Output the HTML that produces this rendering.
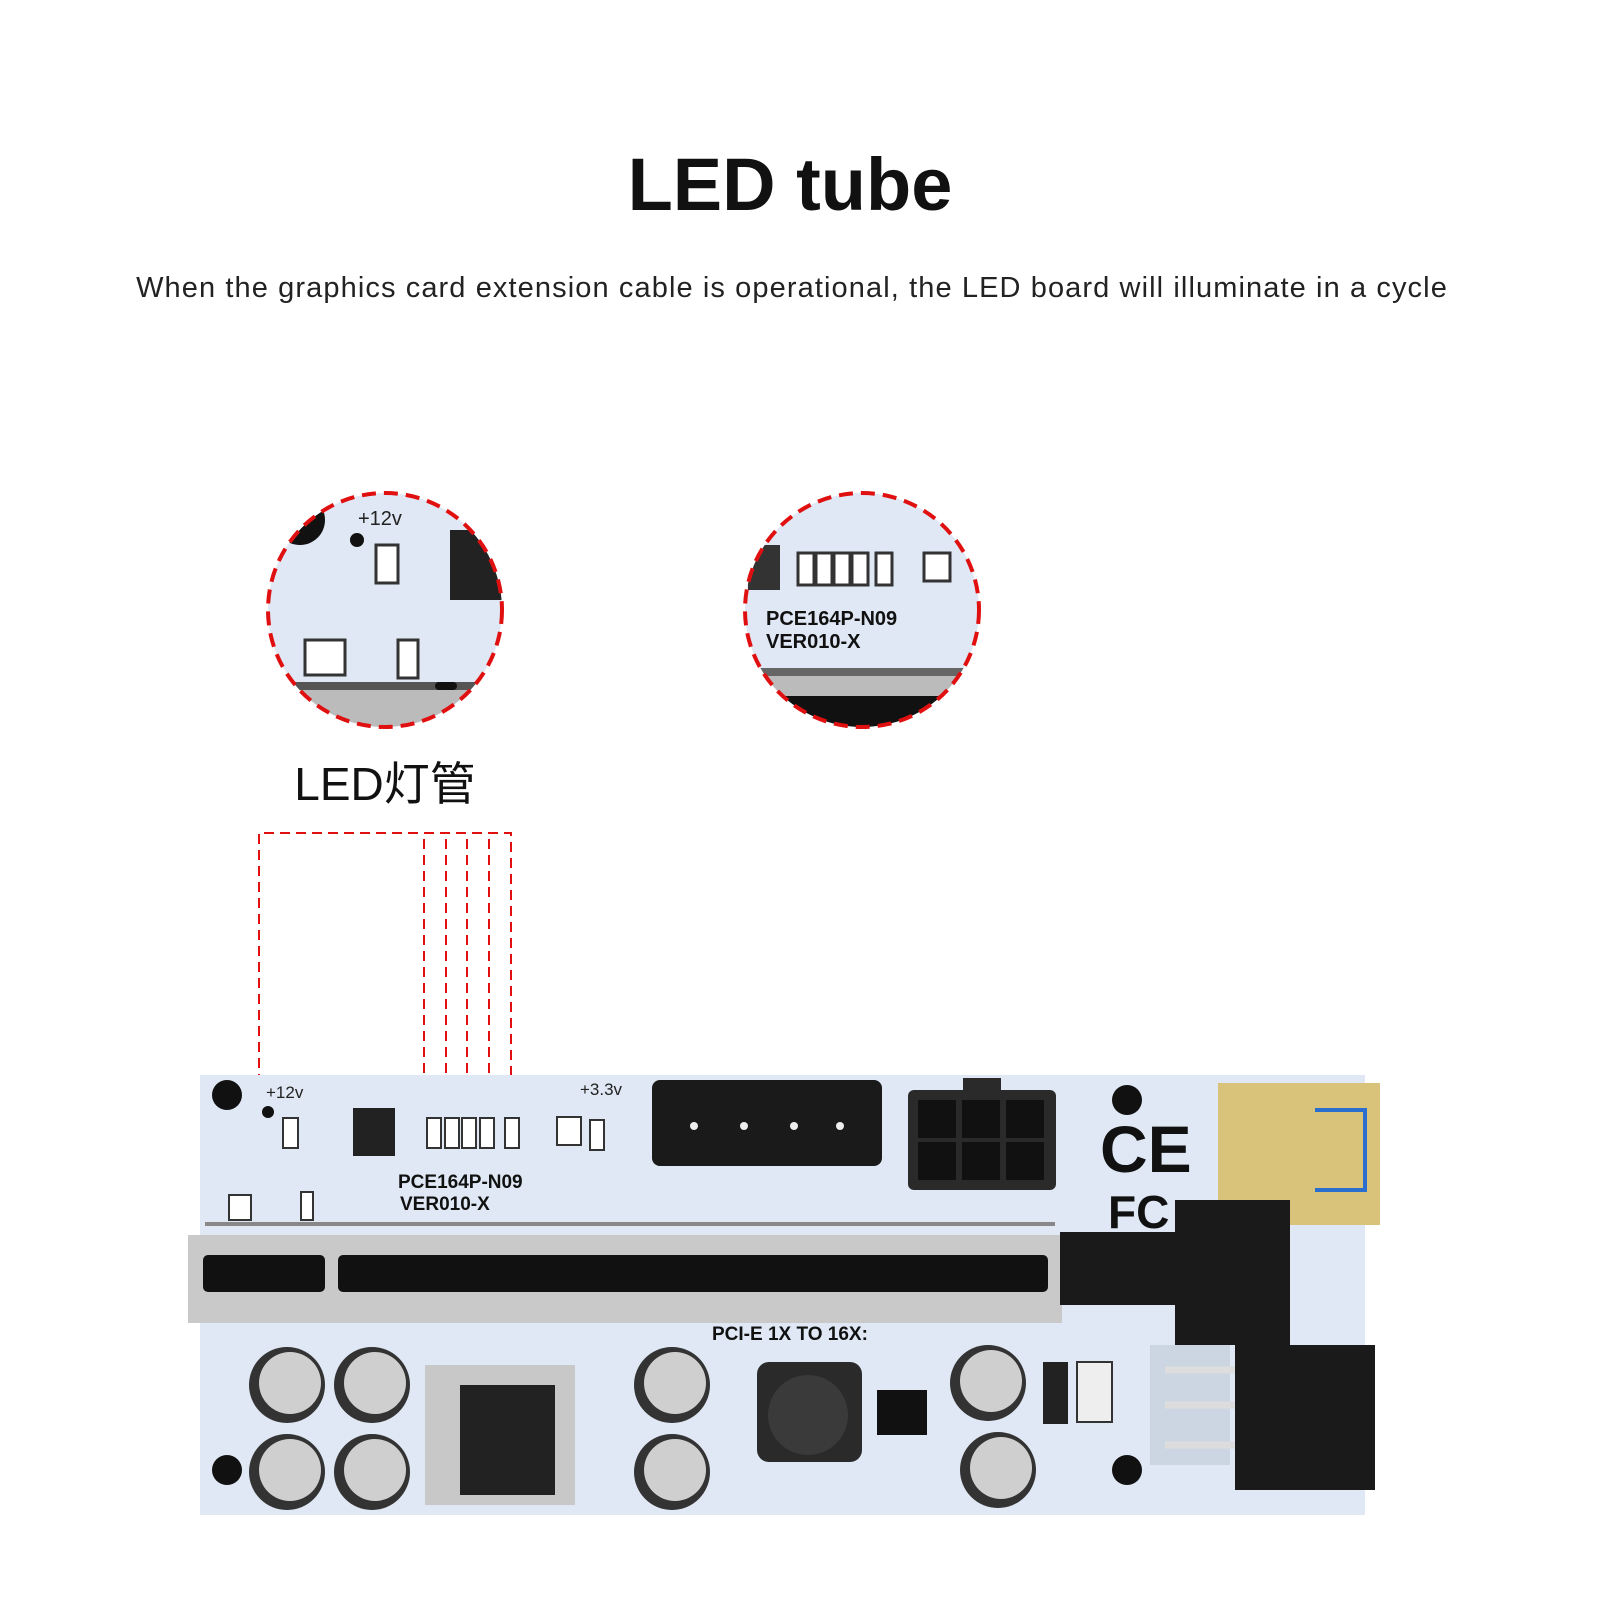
<!DOCTYPE html>
<html><head><meta charset="utf-8"><style>
body{margin:0;background:#fff;width:1600px;height:1600px;overflow:hidden;font-family:"Liberation Sans","Noto Sans CJK SC",sans-serif}
</style></head><body>
<svg width="1600" height="1600" viewBox="0 0 1600 1600" xmlns="http://www.w3.org/2000/svg" font-family="Liberation Sans, Noto Sans CJK SC, sans-serif">
<text x="790" y="210" text-anchor="middle" font-size="74" font-weight="bold" fill="#111">LED tube</text>
<text x="792" y="297" text-anchor="middle" font-size="29" fill="#222" letter-spacing="1.1">When the graphics card extension cable is operational, the LED board will illuminate in a cycle</text>
<defs>
<clipPath id="c1"><circle cx="385" cy="610" r="117"/></clipPath>
<clipPath id="c2"><circle cx="862" cy="610" r="117"/></clipPath>
</defs>
<g clip-path="url(#c1)">
<rect x="260" y="490" width="250" height="250" fill="#dfe8f4"/>
<circle cx="300" cy="520" r="25" fill="#111"/>
<circle cx="357" cy="540" r="7" fill="#111"/>
<text x="358" y="525" font-size="20" fill="#222">+12v</text>
<rect x="376" y="545" width="22" height="38" fill="#fff" stroke="#333" stroke-width="3"/>
<rect x="450" y="530" width="60" height="70" fill="#222"/>
<rect x="305" y="640" width="40" height="35" fill="#fff" stroke="#333" stroke-width="3"/>
<rect x="398" y="640" width="20" height="38" fill="#fff" stroke="#333" stroke-width="3"/>
<rect x="260" y="682" width="250" height="8" fill="#555"/>
<rect x="260" y="690" width="250" height="50" fill="#bbb"/>
<rect x="435" y="682" width="22" height="8" rx="4" fill="#111"/>
</g>
<circle cx="385" cy="610" r="117" fill="none" stroke="#e01010" stroke-width="4" stroke-dasharray="14 8"/>
<g clip-path="url(#c2)">
<rect x="740" y="490" width="250" height="250" fill="#dfe8f4"/>
<rect x="748" y="545" width="32" height="45" fill="#333"/>
<g fill="#fff" stroke="#333" stroke-width="3">
<rect x="798" y="553" width="16" height="32"/><rect x="816" y="553" width="16" height="32"/><rect x="834" y="553" width="16" height="32"/><rect x="852" y="553" width="16" height="32"/><rect x="876" y="553" width="16" height="32"/>
<rect x="924" y="553" width="26" height="28"/>
</g>
<text x="766" y="625" font-size="20" fill="#111" font-weight="bold">PCE164P-N09</text>
<text x="766" y="648" font-size="20" fill="#111" font-weight="bold">VER010-X</text>
<rect x="740" y="668" width="250" height="8" fill="#666"/>
<rect x="740" y="676" width="250" height="20" fill="#bbb"/>
<rect x="740" y="696" width="250" height="50" fill="#111"/>
</g>
<circle cx="862" cy="610" r="117" fill="none" stroke="#e01010" stroke-width="4" stroke-dasharray="14 8"/>
<text x="385" y="800" text-anchor="middle" font-size="46" fill="#111">LED灯管</text>
<g fill="none" stroke="#e01010" stroke-width="2" stroke-dasharray="10 6">
<path d="M259 1100 V833 H511 V1105"/>
<path d="M424 1105 V833"/><path d="M446 1105 V833"/><path d="M467 1105 V833"/><path d="M489 1105 V833"/>
</g>
<rect x="200" y="1075" width="1165" height="440" fill="#dfe8f4"/>
<circle cx="227" cy="1095" r="15" fill="#111"/>
<circle cx="227" cy="1470" r="15" fill="#111"/>
<circle cx="1127" cy="1100" r="15" fill="#111"/>
<circle cx="1127" cy="1470" r="15" fill="#111"/>
<circle cx="268" cy="1112" r="6" fill="#111"/>
<text x="266" y="1098" font-size="17" fill="#222">+12v</text>
<rect x="283" y="1118" width="15" height="30" fill="#fff" stroke="#333" stroke-width="2"/>
<rect x="353" y="1108" width="42" height="48" fill="#222"/>
<g fill="#fff" stroke="#333" stroke-width="2">
<rect x="427" y="1118" width="14" height="30"/><rect x="445" y="1118" width="14" height="30"/><rect x="462" y="1118" width="14" height="30"/><rect x="480" y="1118" width="14" height="30"/><rect x="505" y="1118" width="14" height="30"/>
<rect x="557" y="1117" width="24" height="28"/><rect x="590" y="1120" width="14" height="30"/>
<rect x="229" y="1195" width="22" height="25"/><rect x="301" y="1192" width="12" height="28"/>
</g>
<text x="580" y="1095" font-size="17" fill="#222">+3.3v</text>
<text x="398" y="1188" font-size="19" font-weight="bold" fill="#111">PCE164P-N09</text>
<text x="400" y="1210" font-size="19" font-weight="bold" fill="#111">VER010-X</text>
<rect x="205" y="1222" width="850" height="4" fill="#888"/>
<rect x="652" y="1080" width="230" height="86" rx="8" fill="#1a1a1a"/>
<g fill="#eee"><circle cx="694" cy="1126" r="4"/><circle cx="744" cy="1126" r="4"/><circle cx="794" cy="1126" r="4"/><circle cx="840" cy="1126" r="4"/></g>
<rect x="908" y="1090" width="148" height="100" rx="6" fill="#2a2a2a"/>
<rect x="963" y="1078" width="38" height="16" fill="#2a2a2a"/>
<g fill="#111"><rect x="918" y="1100" width="38" height="38"/><rect x="962" y="1100" width="38" height="38"/><rect x="1006" y="1100" width="38" height="38"/><rect x="918" y="1142" width="38" height="38"/><rect x="962" y="1142" width="38" height="38"/><rect x="1006" y="1142" width="38" height="38"/></g>
<text x="1100" y="1172" font-size="66" font-weight="bold" fill="#111">CE</text>
<text x="1108" y="1228" font-size="46" font-weight="bold" fill="#111">FC</text>
<rect x="1218" y="1083" width="162" height="142" fill="#d9c27a"/>
<path d="M1315 1110 h50 v80 h-50" fill="none" stroke="#2a6fd0" stroke-width="4"/>
<rect x="188" y="1235" width="874" height="88" fill="#c9c9c9"/>
<rect x="203" y="1255" width="122" height="37" rx="5" fill="#111"/>
<rect x="338" y="1255" width="710" height="37" rx="5" fill="#111"/>
<path d="M1060 1232 H1175 V1200 H1290 V1345 H1175 V1305 H1060 Z" fill="#1a1a1a"/>
<rect x="1150" y="1345" width="80" height="120" fill="#ccd6e2"/>
<g stroke="#ddd" stroke-width="7"><line x1="1165" y1="1370" x2="1240" y2="1370"/><line x1="1165" y1="1405" x2="1240" y2="1405"/><line x1="1165" y1="1445" x2="1240" y2="1445"/></g>
<rect x="1235" y="1345" width="140" height="145" fill="#1a1a1a"/>
<text x="712" y="1340" font-size="19" font-weight="bold" fill="#111">PCI-E 1X TO 16X:</text>
<g fill="#333"><circle cx="287" cy="1385" r="38"/><circle cx="372" cy="1385" r="38"/><circle cx="287" cy="1472" r="38"/><circle cx="372" cy="1472" r="38"/><circle cx="672" cy="1385" r="38"/><circle cx="672" cy="1472" r="38"/><circle cx="988" cy="1383" r="38"/><circle cx="998" cy="1470" r="38"/></g>
<g fill="#cfcfcf"><circle cx="290" cy="1383" r="31"/><circle cx="375" cy="1383" r="31"/><circle cx="290" cy="1470" r="31"/><circle cx="375" cy="1470" r="31"/><circle cx="675" cy="1383" r="31"/><circle cx="675" cy="1470" r="31"/><circle cx="991" cy="1381" r="31"/><circle cx="1001" cy="1468" r="31"/></g>
<rect x="425" y="1365" width="150" height="140" fill="#c8c8c8"/>
<rect x="460" y="1385" width="95" height="110" fill="#222"/>
<rect x="757" y="1362" width="105" height="100" rx="12" fill="#2a2a2a"/>
<circle cx="808" cy="1415" r="40" fill="#3a3a3a"/>
<rect x="877" y="1390" width="50" height="45" fill="#111"/>
<rect x="1043" y="1362" width="25" height="62" fill="#222"/>
<rect x="1077" y="1362" width="35" height="60" fill="#eee" stroke="#333" stroke-width="2"/>
</svg>
</body></html>
